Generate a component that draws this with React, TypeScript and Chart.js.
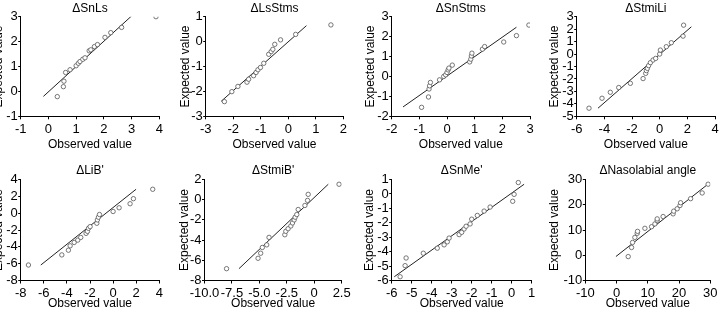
import { useEffect, useRef } from "react";
import { Chart, registerables } from "chart.js";

Chart.register(...registerables);

// ΔSnLs
const snlsObserved = [0.32, 0.54, 0.56, 0.62, 0.78, 1.0, 1.08, 1.14, 1.24, 1.32, 1.47, 1.53, 1.66, 1.77, 2.04, 2.25, 2.64, 3.88];
const snlsExpected = [-0.21, 0.19, 0.41, 0.76, 0.87, 1.03, 1.13, 1.2, 1.29, 1.35, 1.63, 1.67, 1.8, 1.88, 2.17, 2.36, 2.57, 3.0];
const snlsLineObserved = [-0.18, 3.0];
const snlsLineExpected = [-0.2, 3.03];
const snlsXTicks = [-1, 0, 1, 2, 3, 4];
const snlsYTicks = [-1, 0, 1, 2, 3];

// ΔLsStms
const lsstmsObserved = [-2.32, -2.05, -1.83, -1.5, -1.44, -1.26, -1.17, -1.1, -1.01, -0.89, -0.71, -0.62, -0.56, -0.49, -0.28, 0.27, 1.55];
const lsstmsExpected = [-2.41, -2.01, -1.8, -1.63, -1.51, -1.37, -1.24, -1.13, -1.04, -0.87, -0.51, -0.4, -0.31, -0.11, 0.07, 0.29, 0.67];
const lsstmsLineObserved = [-2.44, 0.66];
const lsstmsLineExpected = [-2.4, 0.64];
const lsstmsXTicks = [-3, -2, -1, 0, 1, 2];
const lsstmsYTicks = [-3, -2, -1, 0, 1];

// ΔSnStms
const snstmsObserved = [-0.92, -0.67, -0.65, -0.63, -0.6, -0.27, -0.12, -0.05, 0, 0.04, 0.07, 0.19, 0.82, 0.86, 0.88, 0.9, 1.28, 1.36, 2.05, 2.51, 2.96];
const snstmsExpected = [-1.55, -1.03, -0.63, -0.47, -0.3, -0.17, 0, 0.08, 0.2, 0.33, 0.42, 0.57, 0.73, 0.87, 1.03, 1.17, 1.37, 1.5, 1.73, 2.05, 2.58];
const snstmsLineObserved = [-1.59, 2.51];
const snstmsLineExpected = [-1.53, 2.47];
const snstmsXTicks = [-2, -1, 0, 1, 2, 3];
const snstmsYTicks = [-2, -1, 0, 1, 2, 3];

// ΔStmiLi
const stmiliObserved = [-5.11, -4.17, -3.57, -2.96, -2.12, -1.2, -1.01, -0.96, -0.89, -0.8, -0.67, -0.48, -0.29, 0, 0.05, 0.48, 0.84, 1.69, 1.73];
const stmiliExpected = [-4.35, -3.55, -3.07, -2.69, -2.35, -1.97, -1.55, -1.33, -1.15, -0.93, -0.69, -0.48, -0.35, 0, 0.32, 0.59, 0.91, 1.44, 2.32];
const stmiliLineObserved = [-4.46, 2.29];
const stmiliLineExpected = [-4.35, 2.19];
const stmiliXTicks = [-6, -4, -2, 0, 2, 4];
const stmiliYTicks = [-5, -4, -3, -2, -1, 0, 1, 2, 3];

// ΔLiB'
const libObserved = [-7.33, -4.44, -3.87, -3.72, -3.37, -3.06, -2.8, -2.34, -2.22, -2.13, -1.99, -1.41, -1.36, -1.27, -1.18, 0, 0.52, 1.47, 1.76, 3.43];
const libExpected = [-6.16, -4.96, -4.4, -3.88, -3.48, -3.2, -2.88, -2.4, -2.16, -1.8, -1.6, -1.2, -0.8, -0.48, -0.16, 0.2, 0.64, 1.12, 1.72, 2.84];
const libLineObserved = [-6.26, 1.99];
const libLineExpected = [-6.16, 2.84];
const libXTicks = [-8, -6, -4, -2, 0, 2, 4];
const libYTicks = [-8, -6, -4, -2, 0, 2, 4];

// ΔStmiB'
const stmibObserved = [-7.99, -5.12, -4.88, -4.73, -4.33, -4.12, -2.68, -2.59, -2.38, -2.13, -1.98, -1.83, -1.74, -1.59, -1.46, -0.85, -0.61, -0.55, 2.26];
const stmibExpected = [-6.83, -5.8, -5.3, -4.73, -4.47, -3.73, -3.47, -3.13, -2.87, -2.6, -2.3, -2.0, -1.73, -1.47, -0.97, -0.57, -0.07, 0.53, 1.53];
const stmibLineObserved = [-6.86, 1.28];
const stmibLineExpected = [-6.83, 1.53];
const stmibXTicks = [-10, -7.5, -5, -2.5, 0, 2.5];
const stmibXTickLabels = ["-10.0", "-7.5", "-5.0", "-2.5", "0", "2.5"];
const stmibYTicks = [-8, -6, -4, -2, 0, 2];

// ΔSnMe'
const snmeObserved = [-5.58, -5.33, -5.28, -4.42, -3.72, -3.38, -3.22, -3.13, -2.63, -2.5, -2.38, -2.28, -2.08, -2.0, -1.72, -1.38, -1.08, 0.05, 0.12, 0.33];
const snmeExpected = [-5.74, -4.97, -4.44, -4.11, -3.76, -3.53, -3.32, -3.06, -2.82, -2.66, -2.43, -2.24, -2.08, -1.75, -1.49, -1.19, -0.91, -0.51, -0.03, 0.79];
const snmeLineObserved = [-5.87, 0.62];
const snmeLineExpected = [-5.74, 0.67];
const snmeXTicks = [-6, -5, -4, -3, -2, -1, 0, 1];
const snmeYTicks = [-6, -5, -4, -3, -2, -1, 0, 1];

// ΔNasolabial angle
const nasoObserved = [3.73, 4.8, 5.12, 5.87, 6.61, 6.72, 9.07, 11.2, 12.27, 13.0, 13.0, 14.9, 18.1, 18.3, 19.4, 20.3, 20.5, 23.7, 27.4, 29.3];
const nasoExpected = [-0.53, 3.07, 5.07, 7.07, 8.67, 9.47, 10.67, 11.3, 12.4, 13.7, 14.4, 15.33, 16.4, 17.47, 18.4, 19.7, 20.8, 22.4, 24.67, 28.13];
const nasoLineObserved = [-0.2, 28.8];
const nasoLineExpected = [-0.5, 27.7];
const nasoXTicks = [-10, 0, 10, 20, 30];
const nasoYTicks = [-10, 0, 10, 20, 30];

const FONT = "'Liberation Sans', Arial, Helvetica, sans-serif";
const INK = "#000";

type Row = { rowTop: number; top: number; bottom: number; titleMid: number; xTitleMid: number };
const ROW1: Row = { rowTop: 0, top: 16.7, bottom: 116.3, titleMid: 8.3, xTitleMid: 145 };
const ROW2: Row = { rowTop: 157, top: 179.5, bottom: 280.5, titleMid: 170.5, xTitleMid: 304 };

type Panel = {
  title: string;
  obs: number[];
  exp: number[];
  lineObs: number[];
  lineExp: number[];
  xTicks: number[];
  yTicks: number[];
  xLabels?: string[];
  row: Row;
  left: number;
  right: number;
  yTitleX: number;
};

const panels: Panel[] = [
  { title: "\u0394SnLs", obs: snlsObserved, exp: snlsExpected, lineObs: snlsLineObserved, lineExp: snlsLineExpected, xTicks: snlsXTicks, yTicks: snlsYTicks, row: ROW1, left: 20.7, right: 159.3, yTitleX: -1 },
  { title: "\u0394LsStms", obs: lsstmsObserved, exp: lsstmsExpected, lineObs: lsstmsLineObserved, lineExp: lsstmsLineExpected, xTicks: lsstmsXTicks, yTicks: lsstmsYTicks, row: ROW1, left: 205.7, right: 343.3, yTitleX: 185.5 },
  { title: "\u0394SnStms", obs: snstmsObserved, exp: snstmsExpected, lineObs: snstmsLineObserved, lineExp: snstmsLineExpected, xTicks: snstmsXTicks, yTicks: snstmsYTicks, row: ROW1, left: 391.7, right: 530, yTitleX: 370.5 },
  { title: "\u0394StmiLi", obs: stmiliObserved, exp: stmiliExpected, lineObs: stmiliLineObserved, lineExp: stmiliLineExpected, xTicks: stmiliXTicks, yTicks: stmiliYTicks, row: ROW1, left: 576.7, right: 715, yTitleX: 555 },
  { title: "\u0394LiB'", obs: libObserved, exp: libExpected, lineObs: libLineObserved, lineExp: libLineExpected, xTicks: libXTicks, yTicks: libYTicks, row: ROW2, left: 20.7, right: 159.3, yTitleX: -1 },
  { title: "\u0394StmiB'", obs: stmibObserved, exp: stmibExpected, lineObs: stmibLineObserved, lineExp: stmibLineExpected, xTicks: stmibXTicks, yTicks: stmibYTicks, xLabels: stmibXTickLabels, row: ROW2, left: 204.5, right: 341.7, yTitleX: 184.7 },
  { title: "\u0394SnMe'", obs: snmeObserved, exp: snmeExpected, lineObs: snmeLineObserved, lineExp: snmeLineExpected, xTicks: snmeXTicks, yTicks: snmeYTicks, row: ROW2, left: 391.7, right: 531.7, yTitleX: 370 },
  { title: "\u0394Nasolabial angle", obs: nasoObserved, exp: nasoExpected, lineObs: nasoLineObserved, lineExp: nasoLineExpected, xTicks: nasoXTicks, yTicks: nasoYTicks, row: ROW2, left: 585.3, right: 710.3, yTitleX: 555 },
];

// Draws the panel heading centred over the plotting area.
const panelTitlePlugin = {
  id: "panelTitle",
  afterDraw(chart: any, _args: any, opts: any) {
    const { ctx, chartArea } = chart;
    ctx.save();
    ctx.font = `12px ${FONT}`;
    ctx.fillStyle = INK;
    ctx.textAlign = "center";
    ctx.textBaseline = "middle";
    ctx.fillText(opts.text, (chartArea.left + chartArea.right) / 2, opts.y);
    ctx.restore();
  },
};

const ROW_H = 157;

function QQPanel({ p }: { p: Panel }) {
  const ref = useRef<HTMLCanvasElement>(null);
  const cx = Math.round(p.left) - 70;
  const cw = Math.round(p.right) + 12 - cx;
  const cy = p.row.rowTop;

  useEffect(() => {
    const padLeft = p.yTitleX - cx - 6;
    const yWidth = p.left - cx - padLeft;
    const xHeight = p.row.xTitleMid - p.row.bottom + 6;
    const padTop = p.row.top - cy;
    const padBottom = ROW_H - (p.row.bottom - cy) - xHeight;
    const padRight = cx + cw - p.right;

    const tickFont = { family: FONT, size: 13, lineHeight: 1 };
    const titleFont = { family: FONT, size: 12, lineHeight: 1 };

    const chart = new Chart(ref.current as HTMLCanvasElement, {
      type: "scatter",
      data: {
        datasets: [
          {
            type: "line",
            data: p.lineObs.map((x, i) => ({ x, y: p.lineExp[i] })),
            borderColor: "#222",
            borderWidth: 1,
            pointRadius: 0,
            fill: false,
            tension: 0,
            order: 2,
          } as any,
          {
            data: p.obs.map((x, i) => ({ x, y: p.exp[i] })),
            pointRadius: 2.2,
            pointBorderWidth: 0.8,
            pointBorderColor: "#555",
            pointBackgroundColor: "#fff",
            order: 1,
          },
        ],
      },
      options: {
        responsive: false,
        animation: false,
        events: [],
        layout: { padding: { left: padLeft, right: padRight, top: padTop, bottom: padBottom } },
        plugins: {
          legend: { display: false },
          tooltip: { enabled: false },
          panelTitle: { text: p.title, y: p.row.titleMid - cy },
        } as any,
        scales: {
          x: {
            type: "linear",
            min: p.xTicks[0],
            max: p.xTicks[p.xTicks.length - 1],
            afterFit: (s: any) => {
              s.height = xHeight;
            },
            afterBuildTicks: (s: any) => {
              s.ticks = p.xTicks.map((v) => ({ value: v }));
            },
            ticks: {
              autoSkip: false,
              maxRotation: 0,
              minRotation: 0,
              padding: 3.3,
              color: INK,
              font: tickFont,
              callback: (v: any, i: number) => (p.xLabels ? p.xLabels[i] : String(v)),
            },
            grid: { drawOnChartArea: false, drawTicks: true, tickLength: 3, color: INK, lineWidth: 1 },
            border: { display: true, color: INK, width: 1 },
            title: { display: true, text: "Observed value", color: INK, font: titleFont, padding: 0 },
          },
          y: {
            type: "linear",
            min: p.yTicks[0],
            max: p.yTicks[p.yTicks.length - 1],
            afterFit: (s: any) => {
              s.width = yWidth;
            },
            afterBuildTicks: (s: any) => {
              s.ticks = p.yTicks.map((v) => ({ value: v }));
            },
            ticks: {
              autoSkip: false,
              padding: 0.5,
              color: INK,
              font: tickFont,
              callback: (v: any) => String(v),
            },
            grid: { drawOnChartArea: false, drawTicks: true, tickLength: 2.5, color: INK, lineWidth: 1 },
            border: { display: true, color: INK, width: 1 },
            title: { display: true, text: "Expected value", color: INK, font: titleFont, padding: 0 },
          },
        },
      },
      plugins: [panelTitlePlugin],
    });
    return () => chart.destroy();
  }, []);

  return (
    <canvas
      ref={ref}
      width={cw}
      height={ROW_H}
      style={{ position: "absolute", left: cx, top: cy, width: cw, height: ROW_H }}
    />
  );
}

export default function App() {
  return (
    <div
      style={{
        position: "absolute",
        left: 0,
        top: 0,
        width: 720,
        height: 314,
        overflow: "hidden",
        background: "#fff",
      }}
    >
      {panels.map((p) => (
        <QQPanel key={p.title} p={p} />
      ))}
    </div>
  );
}
